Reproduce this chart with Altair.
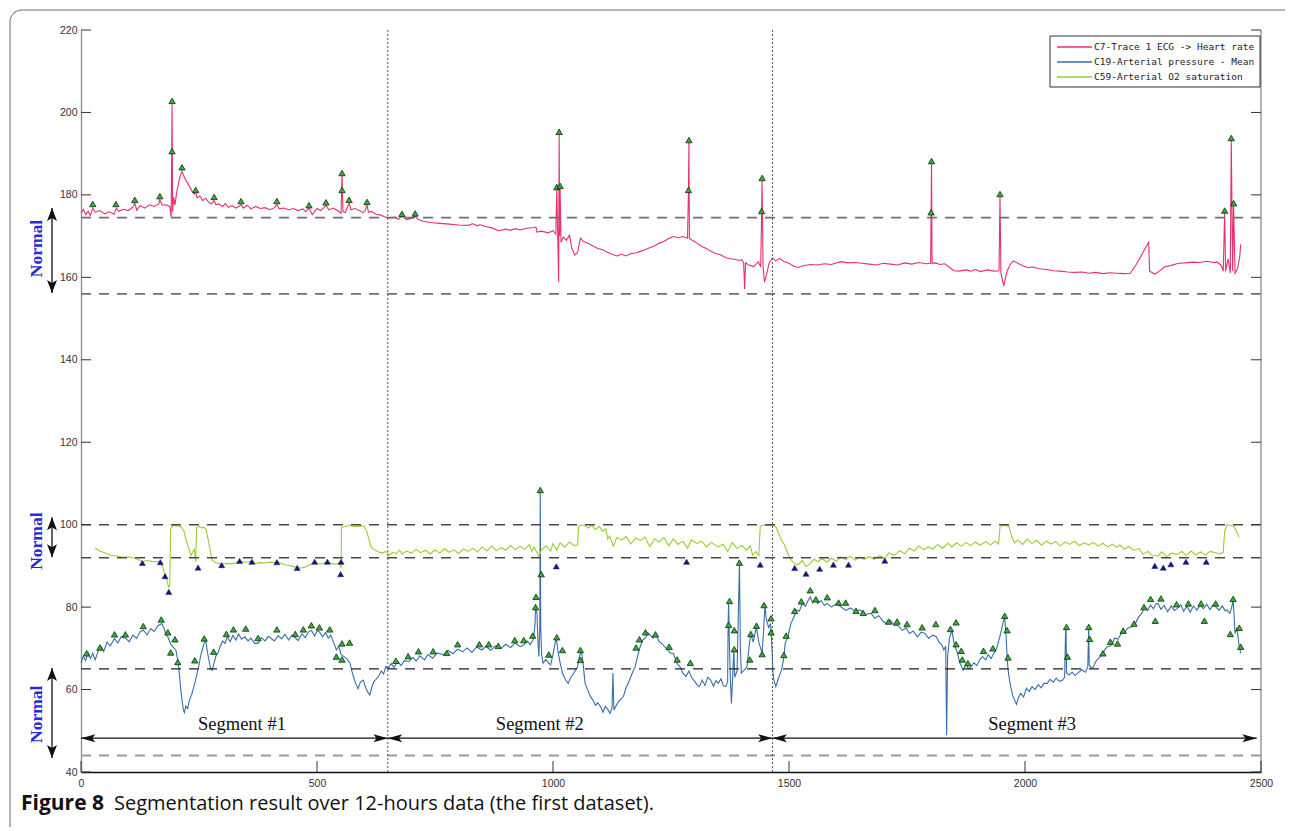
import altair as alt
import pandas as pd

# ---------------- data ----------------
series_names = ["C7-Trace 1 ECG -> Heart rate",
                "C19-Arterial pressure - Mean",
                "C59-Arterial O2 saturation"]
series_colors = ["#e8306a", "#3a6ea8", "#9acd32"]

hr_points = [
    (0, 175.5), (5, 176.5), (10, 175.2), (15, 176.0), (20, 175.0), (25, 176.8), (30, 175.8),
    (40, 176.2), (50, 175.4), (60, 175.9), (70, 175.3), (75, 176.8), (80, 176.0), (90, 176.5),
    (100, 176.2), (110, 177.0), (114, 178.0), (118, 176.3), (125, 177.4), (135, 176.8),
    (145, 177.6), (155, 177.2), (165, 177.8), (167, 178.9), (172, 177.5), (180, 177.6),
    (188, 177.2), (191, 174.6), (193, 202.0), (194, 176.0), (196, 179.5), (199, 177.5),
    (202, 180.0), (205, 182.0), (210, 184.5), (214, 185.7), (218, 184.5), (224, 183.2),
    (230, 182.0), (236, 180.8), (240, 180.2), (243, 181.0), (246, 179.3), (252, 179.7),
    (258, 178.6), (264, 179.2), (270, 178.3), (276, 177.8), (282, 178.6), (286, 177.6),
    (292, 177.8), (300, 177.2), (306, 177.9), (312, 177.0), (320, 177.4), (328, 176.8),
    (336, 177.3), (339, 177.7), (344, 176.8), (352, 177.5), (360, 176.6), (370, 177.2),
    (380, 176.7), (390, 176.9), (400, 176.4), (410, 176.9), (415, 177.6), (420, 176.6),
    (430, 176.8), (440, 176.4), (450, 176.7), (460, 176.2), (470, 176.6), (476, 175.9),
    (483, 176.8), (490, 175.2), (500, 176.7), (508, 176.2), (515, 176.9), (519, 177.5),
    (525, 176.4), (535, 176.8), (545, 176.1), (551, 175.5), (553, 185.0), (555, 176.0),
    (560, 175.7), (565, 177.2), (568, 178.0), (572, 176.4), (580, 176.7), (590, 176.2),
    (598, 175.7), (602, 176.2), (606, 177.5), (609, 175.8), (615, 176.0), (625, 175.3),
    (635, 175.1), (645, 174.6), (655, 174.4), (665, 174.6), (672, 174.1), (680, 174.8),
    (690, 174.0), (700, 174.3), (708, 174.8), (715, 174.0), (725, 173.6), (740, 173.3),
    (760, 173.1), (780, 172.9), (800, 172.7), (820, 172.6), (830, 173.0), (840, 172.5),
    (845, 172.8), (855, 172.4), (870, 172.0), (885, 171.3), (900, 171.7), (910, 171.4),
    (920, 171.8), (930, 171.5), (945, 171.9), (960, 172.1), (964, 172.2), (966, 171.0),
    (975, 171.2), (990, 170.8), (1000, 171.3), (1006, 170.5), (1008, 181.5), (1010, 170.0),
    (1012, 158.8), (1013, 195.0), (1014, 170.0), (1015, 181.5), (1017, 168.5), (1022, 169.8),
    (1028, 169.0), (1035, 170.2), (1040, 167.0), (1046, 165.4), (1052, 166.0), (1058, 169.5),
    (1065, 168.6), (1075, 168.2), (1085, 167.6), (1095, 167.0), (1105, 166.7), (1115, 166.1),
    (1125, 165.6), (1135, 165.2), (1145, 165.6), (1155, 165.2), (1165, 165.8), (1175, 165.9),
    (1185, 166.3), (1195, 166.7), (1205, 167.2), (1215, 167.6), (1225, 168.3), (1235, 168.7),
    (1245, 169.4), (1255, 169.9), (1265, 169.6), (1275, 169.9), (1285, 169.5), (1287, 181.0),
    (1288, 193.0), (1289, 169.5), (1295, 169.0), (1305, 168.3), (1315, 167.5), (1325, 167.0),
    (1335, 166.3), (1345, 165.8), (1355, 165.5), (1365, 164.8), (1375, 164.5), (1385, 164.4),
    (1395, 164.1), (1400, 164.3), (1404, 163.5), (1406, 157.1), (1408, 163.5), (1415, 163.0),
    (1425, 162.6), (1435, 163.8), (1440, 162.5), (1442, 175.5), (1443, 183.5), (1445, 162.8),
    (1448, 158.8), (1452, 160.5), (1458, 163.5), (1465, 164.7), (1472, 164.0), (1480, 164.6),
    (1490, 163.8), (1500, 163.4), (1510, 162.7), (1520, 162.4), (1530, 162.8), (1545, 163.1),
    (1560, 163.0), (1575, 163.3), (1590, 163.1), (1600, 163.5), (1610, 163.8), (1625, 163.5),
    (1640, 163.6), (1655, 163.4), (1670, 163.2), (1685, 163.0), (1700, 163.4), (1715, 163.2),
    (1730, 163.0), (1745, 163.5), (1760, 163.2), (1775, 163.6), (1790, 163.3), (1800, 163.4),
    (1801, 175.2), (1802, 187.7), (1803, 163.4), (1810, 163.5), (1820, 163.1), (1830, 163.3),
    (1840, 162.4), (1850, 161.6), (1860, 161.5), (1875, 161.8), (1885, 161.5), (1895, 161.9),
    (1905, 161.4), (1920, 161.8), (1935, 161.5), (1945, 161.6), (1947, 179.8), (1949, 161.0),
    (1955, 157.9), (1962, 161.5), (1968, 163.0), (1975, 164.0), (1985, 163.4), (1995, 162.8),
    (2005, 162.4), (2017, 162.5), (2030, 162.1), (2045, 161.9), (2060, 161.6), (2075, 161.5),
    (2090, 161.3), (2105, 161.2), (2121, 161.3), (2135, 161.0), (2150, 161.2), (2165, 160.9),
    (2180, 161.1), (2195, 161.0), (2210, 160.9), (2223, 161.0), (2235, 163.0), (2250, 166.0),
    (2262, 168.5), (2264, 161.5), (2275, 160.8), (2285, 161.5), (2295, 162.5), (2310, 162.9),
    (2325, 163.4), (2340, 163.5), (2355, 163.7), (2370, 163.6), (2385, 163.9), (2400, 163.6),
    (2407, 163.7), (2415, 163.0), (2420, 161.5), (2423, 175.6), (2425, 161.5), (2430, 164.5),
    (2435, 161.0), (2437, 193.3), (2440, 161.5), (2442, 177.5), (2445, 161.0), (2450, 162.0),
    (2455, 165.0), (2457, 168.0),
]

spo2_points = [
    (30, 94.3), (40, 93.6), (50, 93.2), (63, 92.6), (75, 92.4), (90, 92.1), (100, 92.2),
    (111, 91.9), (120, 91.6), (130, 91.0), (140, 91.3), (150, 91.1), (160, 91.0), (168, 90.9),
    (172, 90.0), (176, 88.6), (180, 87.5), (186, 84.6), (188, 85.5), (190, 99.0), (195, 99.8),
    (205, 99.7), (212, 99.5), (218, 98.5), (222, 96.5), (225, 95.5), (229, 94.0), (233, 92.5),
    (237, 93.5), (240, 94.0), (243, 91.0), (245, 99.3), (250, 99.6), (255, 99.2), (260, 99.4),
    (265, 98.8), (270, 96.0), (274, 93.5), (278, 91.4), (285, 90.8), (298, 90.4), (310, 90.6),
    (320, 90.5), (330, 90.8), (336, 91.2), (345, 90.9), (355, 91.0), (362, 91.2), (370, 90.6),
    (380, 90.8), (390, 90.7), (400, 90.9), (410, 90.8), (415, 91.1), (425, 90.5), (435, 90.2),
    (445, 90.0), (458, 89.6), (465, 89.5), (475, 89.7), (485, 90.3), (495, 90.8), (505, 90.4),
    (515, 90.7), (522, 90.9), (530, 90.6), (540, 90.4), (548, 90.8), (551, 89.5), (552, 99.3),
    (560, 99.6), (570, 99.8), (580, 99.5), (590, 99.7), (600, 99.6), (605, 98.5), (610, 96.5),
    (614, 94.7), (620, 94.0), (628, 93.5), (638, 93.1), (645, 93.5), (654, 92.6), (660, 93.3),
    (668, 93.0), (675, 93.8), (680, 92.9), (690, 93.6), (700, 93.1), (710, 94.0), (720, 93.2),
    (730, 93.8), (740, 92.9), (750, 93.9), (760, 93.1), (770, 94.2), (780, 93.3), (790, 93.9),
    (800, 93.0), (810, 94.1), (820, 93.5), (830, 94.3), (840, 93.4), (850, 94.6), (860, 93.6),
    (870, 94.8), (880, 93.7), (890, 94.4), (900, 93.8), (910, 95.0), (920, 93.9), (930, 94.8),
    (940, 94.0), (950, 95.2), (955, 93.5), (960, 94.6), (970, 92.3), (975, 93.8), (985, 94.8),
    (995, 93.6), (1000, 95.4), (1008, 93.8), (1015, 95.6), (1025, 94.6), (1035, 95.8),
    (1045, 94.9), (1052, 95.1), (1054, 99.6), (1060, 99.9), (1068, 99.7), (1075, 99.2),
    (1082, 99.9), (1090, 98.8), (1098, 99.6), (1105, 98.4), (1112, 99.0), (1116, 96.5),
    (1120, 97.2), (1128, 94.8), (1135, 96.9), (1145, 96.3), (1155, 97.1), (1165, 95.3),
    (1175, 96.8), (1185, 96.2), (1195, 97.0), (1205, 94.6), (1215, 96.6), (1225, 95.8),
    (1235, 96.9), (1245, 94.9), (1255, 96.5), (1265, 95.2), (1275, 96.0), (1285, 94.3),
    (1293, 96.3), (1305, 95.4), (1315, 96.0), (1325, 94.6), (1335, 95.7), (1350, 94.6),
    (1360, 95.3), (1370, 93.5), (1380, 95.6), (1390, 94.2), (1400, 95.0), (1410, 93.8),
    (1418, 94.9), (1423, 92.6), (1430, 93.5), (1436, 92.5), (1439, 99.5), (1445, 99.9),
    (1455, 99.8), (1465, 99.9), (1472, 99.5), (1478, 98.0), (1484, 96.2), (1490, 95.2),
    (1497, 93.2), (1504, 91.5), (1512, 90.5), (1520, 90.3), (1528, 91.3), (1536, 89.8),
    (1545, 90.6), (1553, 91.6), (1561, 91.0), (1570, 91.8), (1580, 90.9), (1590, 91.9),
    (1600, 91.1), (1610, 92.2), (1620, 91.5), (1630, 92.3), (1640, 91.4), (1650, 92.1),
    (1660, 91.6), (1670, 92.3), (1680, 91.6), (1692, 92.5), (1703, 91.8), (1712, 93.2),
    (1722, 92.5), (1735, 93.7), (1745, 92.9), (1755, 94.3), (1765, 93.6), (1775, 94.8),
    (1785, 93.9), (1795, 94.6), (1805, 94.1), (1815, 95.2), (1825, 94.3), (1837, 95.5),
    (1845, 94.6), (1855, 95.6), (1865, 94.8), (1875, 95.7), (1885, 94.9), (1895, 95.8),
    (1905, 95.0), (1917, 95.9), (1927, 95.1), (1937, 96.0), (1944, 95.3), (1947, 99.4),
    (1952, 99.9), (1960, 99.8), (1966, 99.5), (1972, 97.0), (1978, 95.6), (1985, 96.3),
    (1995, 95.2), (2005, 96.5), (2015, 95.4), (2025, 96.2), (2035, 95.0), (2045, 96.0),
    (2055, 95.3), (2065, 95.9), (2075, 94.8), (2085, 95.8), (2095, 95.2), (2105, 96.0),
    (2115, 94.9), (2125, 95.6), (2135, 95.1), (2145, 95.7), (2155, 94.8), (2165, 95.5),
    (2175, 94.6), (2185, 95.3), (2195, 94.5), (2201, 95.1), (2210, 94.0), (2220, 94.7),
    (2230, 93.8), (2242, 94.2), (2250, 92.8), (2260, 93.5), (2270, 92.5), (2282, 92.4),
    (2290, 93.4), (2300, 92.2), (2310, 93.1), (2322, 92.8), (2332, 93.5), (2342, 92.5),
    (2352, 93.6), (2362, 92.7), (2372, 93.4), (2382, 92.6), (2392, 93.5), (2404, 93.2),
    (2412, 92.9), (2420, 93.3), (2423, 98.5), (2428, 99.9), (2435, 99.8), (2442, 99.6),
    (2448, 98.5), (2453, 97.0),
]

ap_points = [
    (0, 66.5), (5, 68.0), (10, 67.0), (15, 69.0), (20, 67.5), (25, 68.8), (30, 67.2), (37, 69.5),
    (43, 70.4), (48, 69.2), (55, 71.5), (62, 70.6), (71, 72.4), (78, 71.3), (85, 72.8), (95, 72.4),
    (102, 71.6), (110, 73.2), (118, 72.4), (125, 74.0), (132, 74.4), (140, 73.3), (148, 74.8),
    (155, 74.1), (163, 75.5), (171, 76.0), (176, 74.8), (180, 73.5), (184, 72.8), (190, 71.0),
    (196, 70.2), (201, 69.6), (205, 67.0), (207, 65.5), (211, 60.5), (214, 57.5), (217, 55.0),
    (219, 54.4), (222, 56.0), (226, 55.4), (230, 57.5), (235, 59.0), (241, 61.5), (245, 63.5),
    (250, 66.0), (254, 68.5), (257, 69.6), (260, 71.0), (264, 72.0), (268, 69.0), (272, 66.5),
    (275, 65.0), (278, 64.7), (282, 66.5), (286, 68.2), (290, 68.8), (295, 70.5), (300, 71.8),
    (305, 71.2), (310, 72.8), (316, 71.6), (322, 73.2), (328, 72.0), (334, 73.5), (340, 72.2),
    (347, 72.8), (354, 71.8), (360, 72.5), (368, 71.2), (375, 71.2), (382, 72.6), (390, 71.8),
    (397, 72.9), (403, 72.4), (410, 71.8), (418, 73.1), (425, 72.3), (432, 73.4), (440, 72.0),
    (447, 73.2), (452, 72.8), (460, 71.9), (468, 73.5), (475, 72.6), (482, 74.0), (488, 74.4),
    (495, 73.0), (500, 74.2), (505, 74.0), (512, 72.8), (518, 73.8), (524, 72.5), (529, 73.2),
    (535, 71.5), (541, 69.6), (546, 70.5), (551, 68.5), (557, 68.0), (563, 67.5), (570, 66.4),
    (575, 64.0), (579, 62.5), (582, 61.5), (587, 60.2), (592, 61.8), (598, 62.3), (603, 60.5),
    (607, 59.5), (612, 58.7), (616, 60.5), (620, 61.8), (625, 62.5), (630, 63.1), (636, 64.5),
    (641, 63.8), (646, 65.6), (651, 65.1), (657, 66.3), (663, 65.4), (671, 66.8), (678, 65.8),
    (685, 67.0), (695, 66.8), (703, 67.8), (710, 66.9), (718, 68.2), (728, 67.2), (735, 68.5),
    (745, 67.6), (755, 68.9), (768, 68.4), (778, 69.5), (788, 68.7), (798, 69.8), (809, 69.2),
    (818, 70.1), (828, 69.0), (838, 70.3), (849, 69.6), (858, 70.5), (868, 69.5), (878, 70.6),
    (890, 70.0), (900, 71.0), (910, 70.2), (920, 71.3), (930, 70.4), (938, 70.8), (945, 71.8),
    (952, 70.9), (959, 72.4), (962, 76.0), (963, 80.1), (966, 78.5), (968, 72.0), (970, 68.0),
    (972, 75.0), (973, 108.4), (974, 75.0), (976, 68.5), (979, 66.4), (985, 67.3), (990, 66.5),
    (995, 66.0), (1000, 68.5), (1004, 71.0), (1007, 72.4), (1011, 69.0), (1015, 66.5),
    (1020, 64.0), (1026, 62.5), (1032, 61.5), (1038, 63.0), (1045, 64.2), (1052, 65.5),
    (1056, 68.0), (1060, 69.6), (1064, 66.0), (1068, 61.5), (1074, 59.8), (1079, 58.4),
    (1084, 57.5), (1090, 56.2), (1095, 56.8), (1101, 55.8), (1106, 54.5), (1111, 55.9),
    (1117, 55.0), (1121, 54.2), (1125, 55.6), (1127, 64.0), (1129, 55.0), (1135, 56.4),
    (1142, 57.5), (1149, 58.3), (1155, 60.5), (1161, 62.0), (1168, 64.0), (1174, 65.5),
    (1180, 68.5), (1185, 70.5), (1190, 72.0), (1196, 72.6), (1201, 73.8), (1206, 73.2),
    (1212, 72.5), (1218, 73.5), (1224, 71.8), (1230, 71.2), (1236, 70.5), (1242, 69.8),
    (1249, 68.8), (1255, 68.8), (1262, 66.5), (1269, 65.5), (1275, 64.0), (1282, 63.2),
    (1288, 64.5), (1293, 63.1), (1300, 62.0), (1305, 61.2), (1310, 60.7), (1316, 62.3),
    (1322, 61.0), (1328, 63.0), (1334, 62.3), (1340, 60.8), (1345, 62.2), (1350, 61.5),
    (1356, 62.6), (1361, 60.9), (1366, 60.7), (1370, 62.0), (1371, 75.5), (1372, 80.9),
    (1374, 70.0), (1376, 62.0), (1378, 56.6), (1381, 64.0), (1383, 69.6), (1385, 63.0),
    (1390, 64.5), (1393, 80.0), (1395, 90.6), (1397, 70.0), (1399, 64.0), (1404, 64.6),
    (1411, 65.5), (1415, 70.0), (1419, 73.6), (1424, 71.5), (1431, 75.2), (1436, 71.5),
    (1440, 70.0), (1443, 68.8), (1446, 74.0), (1449, 80.5), (1452, 77.0), (1457, 75.0),
    (1461, 76.0), (1464, 70.0), (1466, 64.0), (1468, 62.3), (1472, 60.7), (1477, 62.5),
    (1484, 64.7), (1488, 67.0), (1492, 71.2), (1498, 73.0), (1504, 76.0), (1510, 77.5),
    (1516, 79.3), (1522, 79.0), (1528, 80.9), (1535, 80.2), (1540, 81.5), (1545, 82.5),
    (1550, 81.0), (1556, 81.8), (1561, 80.9), (1568, 81.6), (1575, 80.4), (1581, 80.9),
    (1590, 80.0), (1600, 80.8), (1610, 80.1), (1620, 79.2), (1630, 79.8), (1642, 78.9),
    (1650, 79.4), (1660, 78.2), (1674, 78.5), (1682, 77.3), (1690, 77.9), (1700, 76.5),
    (1707, 76.0), (1715, 76.8), (1723, 75.5), (1731, 75.6), (1740, 74.3), (1748, 75.0),
    (1755, 73.6), (1763, 74.2), (1772, 72.8), (1780, 73.9), (1788, 73.6), (1796, 72.4),
    (1804, 73.2), (1812, 72.8), (1818, 71.5), (1824, 70.8), (1828, 69.6), (1832, 70.5),
    (1834, 48.9), (1836, 68.0), (1840, 72.5), (1845, 74.4), (1850, 71.0), (1857, 68.8),
    (1862, 66.5), (1869, 64.7), (1875, 66.2), (1880, 65.0), (1885, 65.5), (1892, 66.5),
    (1898, 65.8), (1904, 67.2), (1910, 68.0), (1917, 67.2), (1922, 68.5), (1928, 67.5),
    (1934, 68.8), (1940, 70.0), (1946, 72.5), (1950, 74.4), (1954, 76.5), (1957, 77.7),
    (1960, 73.0), (1962, 68.0), (1964, 65.0), (1966, 63.1), (1970, 60.5), (1974, 58.5),
    (1978, 57.5), (1982, 56.4), (1986, 58.0), (1991, 59.1), (1997, 58.2), (2003, 60.3),
    (2009, 59.5), (2015, 60.7), (2021, 60.0), (2028, 61.2), (2034, 60.4), (2040, 61.5),
    (2047, 61.5), (2053, 62.5), (2060, 61.8), (2066, 62.8), (2073, 62.0), (2080, 62.3),
    (2084, 63.0), (2086, 74.5), (2087, 75.2), (2088, 64.0), (2093, 63.5), (2100, 64.2),
    (2106, 63.4), (2112, 64.0), (2120, 64.8), (2128, 64.2), (2133, 65.5), (2135, 75.2),
    (2136, 66.0), (2140, 65.2), (2145, 65.5), (2150, 66.8), (2155, 67.5), (2160, 68.0),
    (2165, 68.8), (2170, 69.8), (2175, 70.4), (2180, 70.5), (2185, 71.2), (2190, 72.5),
    (2197, 72.2), (2204, 73.6), (2210, 73.6), (2217, 74.8), (2224, 75.2), (2230, 75.5),
    (2234, 76.0), (2240, 77.5), (2247, 78.4), (2254, 80.1), (2260, 79.2), (2266, 80.5),
    (2272, 79.6), (2278, 80.8), (2282, 80.9), (2288, 79.5), (2295, 80.4), (2302, 78.9),
    (2310, 80.3), (2316, 79.2), (2323, 79.7), (2330, 80.6), (2336, 79.0), (2343, 80.2),
    (2350, 78.8), (2357, 80.3), (2364, 79.3), (2371, 80.4), (2378, 79.6), (2385, 80.7),
    (2392, 79.4), (2398, 80.5), (2404, 80.1), (2411, 79.2), (2418, 80.3), (2424, 79.1),
    (2428, 79.3), (2434, 78.5), (2438, 80.0), (2441, 81.7), (2443, 78.0), (2445, 73.6),
    (2449, 75.0), (2453, 71.2), (2457, 68.8),
]

# detected peaks (green triangles) and SpO2 lows (navy triangles)
hr_peaks = [
    (25, 177.8), (74, 177.8), (114, 178.8), (167, 179.7), (193, 202.8), (193, 190.6),
    (214, 186.7), (243, 181.2), (282, 179.5), (339, 178.5), (415, 178.5), (483, 177.5),
    (519, 178.2), (553, 185.3), (553, 181.2), (568, 178.8), (606, 178.3), (680, 175.4),
    (708, 175.5), (1008, 181.9), (1013, 195.3), (1015, 182.2), (1287, 181.2), (1288, 193.3),
    (1442, 176.1), (1443, 184.1), (1801, 175.8), (1802, 188.2), (1947, 180.2), (2423, 176.2),
    (2437, 193.8), (2442, 178.0),
]
ap_peaks = [
    (12, 68.8), (40, 70.2), (71, 73.4), (94, 73.4), (132, 75.4), (170, 77.0), (184, 73.9),
    (199, 72.2), (190, 69.0), (205, 66.7), (241, 67.1), (261, 72.4), (281, 69.2), (308, 73.5),
    (323, 74.6), (349, 74.8), (375, 72.5), (415, 74.6), (454, 73.5), (471, 74.6), (488, 75.6),
    (505, 75.1), (527, 74.6), (553, 71.2), (569, 71.4), (541, 68.0), (553, 67.3), (667, 67.0),
    (693, 68.1), (715, 69.3), (746, 69.3), (775, 68.9), (798, 71.0), (844, 71.0), (864, 71.0),
    (884, 70.6), (919, 72.0), (938, 72.0), (957, 73.1), (963, 80.0), (964, 82.5), (975, 88.0),
    (973, 108.4), (991, 68.5), (1008, 72.7), (1020, 69.6), (1058, 69.6), (1058, 67.2),
    (1176, 70.2), (1183, 72.2), (1196, 73.9), (1217, 73.4), (1246, 70.4), (1263, 67.3),
    (1291, 66.5), (1374, 81.5), (1372, 75.7), (1384, 74.4), (1384, 69.8), (1395, 90.8),
    (1417, 67.3), (1419, 73.5), (1431, 75.5), (1443, 68.6), (1447, 80.5), (1462, 77.3),
    (1462, 73.9), (1489, 68.4), (1494, 73.1), (1512, 79.1), (1526, 81.4), (1545, 84.1),
    (1557, 81.9), (1581, 82.4), (1605, 81.1), (1620, 81.1), (1642, 79.1), (1657, 78.6),
    (1682, 79.3), (1711, 76.5), (1729, 76.5), (1750, 75.9), (1782, 75.1), (1811, 75.9),
    (1842, 74.7), (1854, 76.3), (1854, 71.0), (1865, 69.4), (1867, 67.3), (1879, 66.4),
    (1912, 69.4), (1932, 70.0), (1957, 77.9), (1962, 74.4), (1964, 67.8), (2088, 75.2),
    (2090, 68.0), (2135, 75.2), (2137, 72.3), (2165, 68.8), (2181, 71.6), (2196, 71.2),
    (2208, 74.3), (2231, 76.0), (2252, 80.0), (2266, 82.0), (2276, 76.7), (2288, 82.1),
    (2321, 80.7), (2346, 80.9), (2373, 80.9), (2380, 76.7), (2404, 80.9), (2441, 82.0),
    (2435, 73.5), (2454, 75.0), (2457, 70.4),
]
spo2_lows = [
    (130, 90.7), (168, 90.9), (178, 87.5), (186, 83.7), (248, 89.6), (298, 90.2), (336, 91.2),
    (362, 91.0), (415, 90.9), (458, 89.5), (495, 91.0), (522, 91.0), (551, 91.0), (550, 88.0),
    (1007, 89.9), (1283, 91.0), (1439, 90.3), (1512, 89.5), (1536, 88.1), (1565, 89.3),
    (1594, 90.3), (1626, 90.3), (1703, 91.3), (2275, 90.0), (2293, 89.6), (2309, 90.4),
    (2341, 91.0), (2384, 91.0),
]

# normal ranges (HR, SpO2, AP) and their annotation arrows
normal_low = [156.0, 92.0, 44.0]
normal_high = [174.5, 100.0, 65.0]
normal_arrow_top = [176.8, 101.8, 65.2]
normal_arrow_bottom = [156.2, 92.1, 43.4]
normal_label_y = [167.0, 96.0, 54.0]

# segmentation
segment_start = [0, 650, 1465]
segment_end = [650, 1465, 2491]
segment_labels = ["Segment #1", "Segment #2", "Segment #3"]
segment_label_x = [341, 972, 2015]
segment_arrow_y = [48.2, 48.2, 48.2]
segment_label_y = [51.6, 51.6, 51.6]
segment_bounds = [650, 1465]

x_ticks = [0, 500, 1000, 1500, 2000, 2500]
y_ticks = [40, 60, 80, 100, 120, 140, 160, 180, 200, 220]

caption_bold = "Figure 8"
caption_text = "Segmentation result over 12-hours data (the first dataset)."

# ---------------- chart ----------------
W, H = 1180, 742
xs = alt.Scale(domain=[0, 2500], nice=False, zero=False)
ys = alt.Scale(domain=[40, 220], nice=False, zero=False)
AX_X = alt.Axis(values=x_ticks, format="d", ticks=False, grid=False, title=None, labelPadding=6,
                domainColor="#111111", domainWidth=1.3, labelFont="Liberation Sans",
                labelFontSize=10.5, labelColor="#333333", labelFlush=False, labelOverlap=False)
AX_Y = alt.Axis(values=y_ticks, format="d", ticks=False, grid=False, title=None, labelPadding=4,
                domainColor="#8a8a8a", domainWidth=1.3, labelFont="Liberation Sans",
                labelFontSize=10.5, labelColor="#333333", labelOverlap=False)


def X(field):
    return alt.X(field, type="quantitative", scale=xs, axis=AX_X)


def Y(field):
    return alt.Y(field, type="quantitative", scale=ys, axis=AX_Y)


def pts(points, name):
    return pd.DataFrame({"x": [p[0] for p in points], "y": [p[1] for p in points], "series": name})


lines_df = pd.concat([pts(hr_points, series_names[0]),
                      pts(ap_points, series_names[1]),
                      pts(spo2_points, series_names[2])], ignore_index=True)

layers = []

# main data lines (first, so that the axes are defined here)
layers.append(alt.Chart(lines_df).mark_line(strokeWidth=1.1).encode(
    x=X("x"), y=Y("y"),
    color=alt.Color("series:N", scale=alt.Scale(domain=series_names, range=series_colors),
                    legend=None),
))

# frame (top + left with rounded corner)
one = pd.DataFrame({"a": [0]})
layers.append(alt.Chart(one).mark_rule(color="#6a6a6a", strokeWidth=1).encode(
    x=alt.value(-59), x2=alt.value(1207), y=alt.value(-20)))
layers.append(alt.Chart(one).mark_rule(color="#6a6a6a", strokeWidth=1).encode(
    x=alt.value(-71), y=alt.value(-8), y2=alt.value(797)))
layers.append(alt.Chart(one).mark_arc(innerRadius=11.5, outerRadius=12.5, theta=4.7124,
                                      theta2=6.2832, color="#6a6a6a").encode(
    x=alt.value(-59), y=alt.value(-8)))

# dashed normal-range lines
dash_styles = [("#707070", 1.8), ("#4a4a4a", 1.5), ("#9a9a9a", 1.8)]
dash_styles_high = [("#707070", 1.8), ("#4a4a4a", 1.5), ("#202020", 1.3)]
for i in range(3):
    for val, (col, w) in ((normal_low[i], dash_styles[i]), (normal_high[i], dash_styles_high[i])):
        layers.append(alt.Chart(pd.DataFrame({"v": [val]})).mark_rule(
            color=col, strokeWidth=w, strokeDash=[10, 8]).encode(
            y=Y("v"), x=alt.value(0), x2=alt.value(W)))

# segment boundaries
layers.append(alt.Chart(pd.DataFrame({"b": segment_bounds})).mark_rule(
    color="#555555", strokeWidth=1, strokeDash=[2, 2]).encode(
    x=X("b"), y=alt.value(0), y2=alt.value(H)))

# right axis line and inward ticks
layers.append(alt.Chart(one).mark_rule(color="#8a8a8a", strokeWidth=1.3).encode(
    x=alt.value(W), y=alt.value(0), y2=alt.value(H)))
ytk = pd.DataFrame({"v": y_ticks})
xtk = pd.DataFrame({"v": x_ticks})
layers.append(alt.Chart(ytk).mark_rule(color="#333333", strokeWidth=1).encode(
    y=Y("v"), x=alt.value(0), x2=alt.value(10)))
layers.append(alt.Chart(ytk).mark_rule(color="#333333", strokeWidth=1).encode(
    y=Y("v"), x=alt.value(W - 10), x2=alt.value(W)))
layers.append(alt.Chart(xtk).mark_rule(color="#333333", strokeWidth=1).encode(
    x=X("v"), y=alt.value(H), y2=alt.value(H - 11)))


# markers
def mdf(points):
    return pd.DataFrame({"x": [p[0] for p in points], "y": [p[1] for p in points]})


peaks_df = pd.concat([mdf(hr_peaks), mdf(ap_peaks)], ignore_index=True)
layers.append(alt.Chart(peaks_df).mark_point(
    shape="triangle-up", filled=True, size=40, fill="#35b035", stroke="#0b2f0b",
    strokeWidth=0.8, opacity=1).encode(x=X("x"), y=Y("y")))
layers.append(alt.Chart(mdf(spo2_lows)).mark_point(
    shape="triangle-up", filled=True, size=36, fill="#16167a", stroke="#16167a",
    strokeWidth=0.5, opacity=1).encode(x=X("x"), y=Y("y")))

# segment arrows + labels
seg_df = pd.DataFrame({"s": segment_start, "e": segment_end, "y": segment_arrow_y,
                       "lx": segment_label_x, "ly": segment_label_y, "t": segment_labels})
LEFT_HEAD = "M0,0L3.6,-1L2.8,0L3.6,1Z"
RIGHT_HEAD = "M0,0L-3.6,-1L-2.8,0L-3.6,1Z"
UP_HEAD = "M0,0L1,2.6L0,2L-1,2.6Z"
DOWN_HEAD = "M0,0L1,-2.6L0,-2L-1,-2.6Z"
layers.append(alt.Chart(seg_df).mark_rule(color="#111111", strokeWidth=1.3).encode(
    x=X("s"), x2="e:Q", y=Y("y")))
layers.append(alt.Chart(seg_df).mark_point(shape=LEFT_HEAD, filled=True, size=64,
                                           color="#111111", opacity=1).encode(x=X("s"), y=Y("y")))
layers.append(alt.Chart(seg_df).mark_point(shape=RIGHT_HEAD, filled=True, size=64,
                                           color="#111111", opacity=1).encode(x=X("e"), y=Y("y")))
layers.append(alt.Chart(seg_df).mark_text(font="Liberation Serif", fontSize=18.5,
                                          color="#111111", baseline="middle").encode(
    x=X("lx"), y=Y("ly"), text="t:N"))

# "Normal" annotations on the left
norm_df = pd.DataFrame({"top": normal_arrow_top, "bot": normal_arrow_bottom,
                        "ly": normal_label_y, "t": ["Normal"] * 3})
layers.append(alt.Chart(norm_df).mark_rule(color="#111111", strokeWidth=1.3).encode(
    y=Y("top"), y2="bot:Q", x=alt.value(-29)))
layers.append(alt.Chart(norm_df).mark_point(shape=UP_HEAD, filled=True, size=100,
                                            color="#111111", opacity=1).encode(
    y=Y("top"), x=alt.value(-29)))
layers.append(alt.Chart(norm_df).mark_point(shape=DOWN_HEAD, filled=True, size=100,
                                            color="#111111", opacity=1).encode(
    y=Y("bot"), x=alt.value(-29)))
layers.append(alt.Chart(norm_df).mark_text(font="Liberation Serif", fontWeight="bold",
                                           fontSize=17.5, color="#2a2ad8", angle=270,
                                           baseline="middle", align="center").encode(
    y=Y("ly"), x=alt.value(-44), text="t:N"))

# legend (drawn box)
layers.append(alt.Chart(one).mark_rect(fill="white", stroke="#333333", strokeWidth=1).encode(
    x=alt.value(969), x2=alt.value(1179), y=alt.value(6), y2=alt.value(57)))
for i, (nm, col) in enumerate(zip(series_names, series_colors)):
    yy = 17 + 15 * i
    layers.append(alt.Chart(one).mark_rule(color=col, strokeWidth=1.5).encode(
        x=alt.value(976), x2=alt.value(1011), y=alt.value(yy)))
    layers.append(alt.Chart(one).mark_text(font="DejaVu Sans Mono", fontSize=9.5, align="left",
                                           baseline="middle", color="#222222").encode(
        x=alt.value(1013), y=alt.value(yy), text=alt.value(nm)))

# caption
layers.append(alt.Chart(one).mark_text(font="Open Sans", fontSize=21, fontWeight="bold",
                                       align="left", baseline="alphabetic", color="#111111").encode(
    x=alt.value(-60), y=alt.value(780), text=alt.value(caption_bold)))
layers.append(alt.Chart(one).mark_text(font="Open Sans", fontSize=20, align="left",
                                       baseline="alphabetic", color="#111111").encode(
    x=alt.value(33), y=alt.value(780), text=alt.value(caption_text)))

chart = alt.layer(*layers).properties(
    width=W, height=H,
    padding={"left": 73, "top": 22, "right": 24, "bottom": 55},
    autosize=alt.AutoSizeParams(type="none"),
    background="white",
).configure_view(stroke=None)

chart.save("out.html", embed_options={"renderer": "svg", "actions": False})
